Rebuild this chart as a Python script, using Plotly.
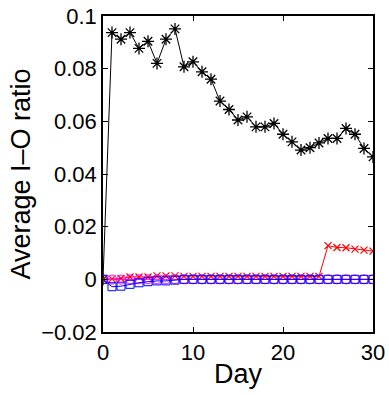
import plotly.graph_objects as go

days = list(range(31))
black = [0.0, 0.0937, 0.0912, 0.0937, 0.0877, 0.0904, 0.0820, 0.0912, 0.0951, 0.0807,
         0.0826, 0.0788, 0.0760, 0.0677, 0.0645, 0.0605, 0.0617, 0.0579, 0.0579, 0.0592,
         0.0551, 0.0522, 0.0491, 0.0500, 0.0518, 0.0535, 0.0535, 0.0573, 0.0551, 0.0497, 0.0465]
red = [0.0, 0.0002, 0.0003, 0.0009, 0.0009, 0.0009, 0.0013, 0.0013, 0.0013, 0.0011,
       0.0011, 0.0011, 0.0011, 0.0011, 0.0011, 0.0011, 0.0011, 0.0011, 0.0011, 0.0011,
       0.0011, 0.0011, 0.0011, 0.0011, 0.0011, 0.0128, 0.0121, 0.0120, 0.0115, 0.0111, 0.0107]
magenta = [0.0, -0.0001, -0.0001, 0.0, 0.0, 0.0, 0.0, 0.0, 0.0, 0.0,
           0.0, 0.0, 0.0, 0.0, 0.0, 0.0, 0.0, 0.0, 0.0, 0.0,
           0.0, 0.0, 0.0, 0.0, 0.0, 0.0, 0.0, 0.0, 0.0, 0.0, 0.0]
blue = [0.0, -0.0028, -0.0026, -0.0019, -0.0013, -0.0009, -0.0006, -0.0006, -0.0003, 0.0,
        0.0, 0.0, 0.0, 0.0, 0.0, 0.0, 0.0, 0.0, 0.0, 0.0,
        0.0, 0.0, 0.0, 0.0, 0.0, 0.0, 0.0, 0.0, 0.0, 0.0, 0.0]
x_ticks = [0, 10, 20, 30]
x_ticklabels = ["0", "10", "20", "30"]
y_ticks = [-0.02, 0, 0.02, 0.04, 0.06, 0.08, 0.1]
y_ticklabels = ["\u22120.02", "0", "0.02", "0.04", "0.06", "0.08", "0.1"]

FONT = "Liberation Sans, Arial"

fig = go.Figure()
fig.add_trace(go.Scatter(x=days, y=black, mode="lines+markers",
                         line=dict(color="black", width=1),
                         marker=dict(symbol="asterisk-open", size=10, color="black",
                                     line=dict(color="black", width=1.3))))
fig.add_trace(go.Scatter(x=days, y=red, mode="lines+markers",
                         line=dict(color="red", width=1),
                         marker=dict(symbol="x-thin-open", size=7, color="red",
                                     line=dict(color="red", width=1.2))))
fig.add_trace(go.Scatter(x=days, y=magenta, mode="lines+markers",
                         line=dict(color="magenta", width=1),
                         marker=dict(symbol="circle-open", size=9, color="magenta",
                                     line=dict(color="magenta", width=1))))
fig.add_trace(go.Scatter(x=days, y=blue, mode="lines+markers",
                         line=dict(color="blue", width=1),
                         marker=dict(symbol="square-open", size=8, color="blue",
                                     line=dict(color="blue", width=1))))

axis_common = dict(showline=True, mirror="ticks", linecolor="black", linewidth=1.5,
                   ticks="inside", ticklen=5, tickwidth=1, tickcolor="black",
                   showgrid=False, zeroline=False, automargin=False,
                   tickfont=dict(family=FONT, size=22, color="black"))

fig.update_layout(
    width=389, height=395,
    margin=dict(l=103, r=16, t=16, b=63),
    paper_bgcolor="white", plot_bgcolor="white",
    showlegend=False,
    font=dict(family=FONT, color="black"),
    xaxis=dict(range=[0, 30], tickvals=x_ticks, ticktext=x_ticklabels,
               title=dict(text="Day", font=dict(size=27), standoff=0), **axis_common),
    yaxis=dict(range=[-0.02, 0.1], tickvals=y_ticks, ticktext=y_ticklabels,
               title=dict(text="Average I\u2013O ratio", font=dict(size=27), standoff=3),
               **axis_common),
)

fig.write_html("out.html")
